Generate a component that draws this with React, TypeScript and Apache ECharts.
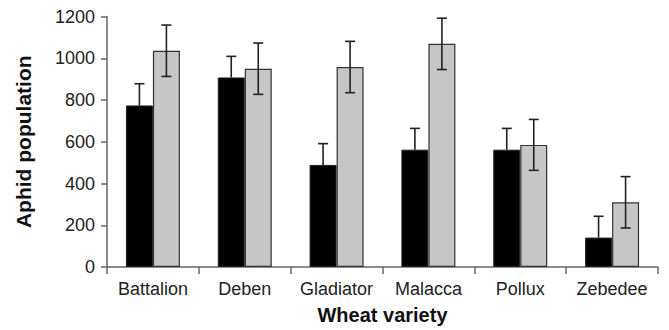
import React, { useEffect, useRef } from "react";
import * as echarts from "echarts";

const categories = ["Battalion", "Deben", "Gladiator", "Malacca", "Pollux", "Zebedee"];
const blackValues = [774, 908, 489, 562, 562, 141];
const blackErrors = [104, 101, 102, 102, 102, 102];
const greyValues = [1036, 950, 958, 1069, 585, 310];
const greyErrors = [123, 123, 123, 123, 122, 123];
const yTicks = { min: 0, max: 1200, interval: 200 };

const BAR_W = 27;
const FONT = "'Liberation Sans', Arial, sans-serif";

function errorSeries(values: number[], errors: number[], side: number, showLower: boolean) {
  return {
    type: "custom",
    z: 10,
    data: values.map((v, i) => [i, v - errors[i], v + errors[i], v]),
    renderItem: (params: any, api: any) => {
      const idx = api.value(0);
      const lo = api.coord([idx, api.value(1)]);
      const hi = api.coord([idx, api.value(2)]);
      const mid = api.coord([idx, api.value(3)]);
      const x = lo[0] + side * (BAR_W / 2);
      const cap = 5;
      const style = { stroke: "#222", lineWidth: 1.6 };
      const children: any[] = [
        { type: "line", shape: { x1: x, y1: showLower ? lo[1] : mid[1], x2: x, y2: hi[1] }, style },
        { type: "line", shape: { x1: x - cap, y1: hi[1], x2: x + cap, y2: hi[1] }, style },
      ];
      if (showLower) {
        children.push({ type: "line", shape: { x1: x - cap, y1: lo[1], x2: x + cap, y2: lo[1] }, style });
      }
      return { type: "group", children };
    },
  };
}

export default function App() {
  const ref = useRef<HTMLDivElement>(null);
  useEffect(() => {
    if (!ref.current) return;
    const chart = echarts.init(ref.current, null, { renderer: "svg" });
    chart.setOption({
      animation: false,
      backgroundColor: "#ffffff",
      grid: { left: 107, right: 11, top: 16.5, bottom: 62.5, containLabel: false },
      xAxis: {
        type: "category",
        data: categories,
        boundaryGap: true,
        name: "Wheat variety",
        nameLocation: "middle",
        nameGap: 38,
        nameTextStyle: { fontFamily: FONT, fontSize: 20, fontWeight: "bold", color: "#111", verticalAlign: "top" },
        axisLine: { show: true, lineStyle: { color: "#666", width: 1.5 } },
        axisTick: { show: true, alignWithLabel: false, length: 7, lineStyle: { color: "#666", width: 1.5 } },
        axisLabel: { fontFamily: FONT, fontSize: 18, color: "#222", margin: 13, interval: 0 },
        splitLine: { show: false },
      },
      yAxis: {
        type: "value",
        min: yTicks.min,
        max: yTicks.max,
        interval: yTicks.interval,
        name: "Aphid population",
        nameLocation: "middle",
        nameGap: 73,
        nameRotate: 90,
        nameTextStyle: { fontFamily: FONT, fontSize: 21, fontWeight: "bold", color: "#111" },
        axisLine: { show: true, lineStyle: { color: "#666", width: 1.5 } },
        axisTick: { show: true, length: 6, lineStyle: { color: "#666", width: 1.5 } },
        axisLabel: { fontFamily: FONT, fontSize: 18, color: "#222", margin: 12, formatter: (v: number) => String(v) },
        splitLine: { show: false },
      },
      series: [
        {
          type: "bar",
          data: blackValues,
          barWidth: BAR_W,
          barGap: "0%",
          itemStyle: { color: "#000000", borderColor: "#222", borderWidth: 1 },
        },
        {
          type: "bar",
          data: greyValues,
          barWidth: BAR_W,
          barGap: "0%",
          itemStyle: { color: "#c6c6c6", borderColor: "#333", borderWidth: 1.2 },
        },
        errorSeries(blackValues, blackErrors, -1, false),
        errorSeries(greyValues, greyErrors, 1, true),
      ],
    });
    return () => chart.dispose();
  }, []);
  return (
    <div
      ref={ref}
      style={{ position: "fixed", left: 0, top: 0, width: 669, height: 330, background: "#fff" }}
    />
  );
}
